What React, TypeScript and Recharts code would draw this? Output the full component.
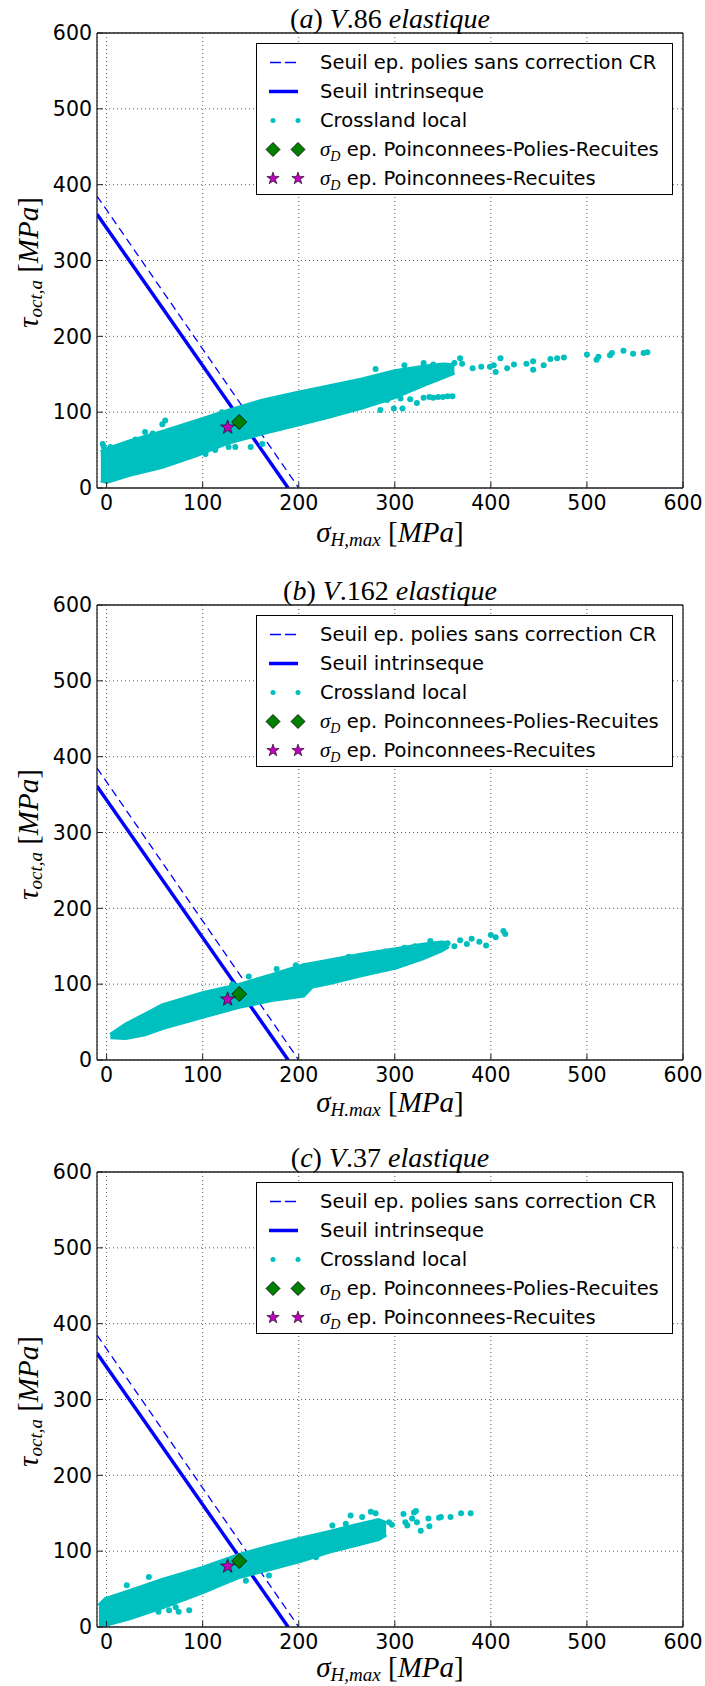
import React from 'react'
import { ComposedChart, Line, Area, Scatter, XAxis, YAxis, CartesianGrid, Legend, Label } from 'recharts'

const CYAN = '#00BFBF'
const BLUE = '#0000FF'
const GREEN = '#008000'
const MAGENTA = '#BF00BF'
const SANS = "'DejaVu Sans', sans-serif"
const SERIF = "'Liberation Serif', 'DejaVu Serif', serif"

const X_TICKS = [0, 100, 200, 300, 400, 500, 600]
const Y_TICKS = [0, 100, 200, 300, 400, 500, 600]

// threshold lines (same on the three panels)
const seuilSansCR = [{ x: -10, y: 385 }, { x: 200, y: 0 }]
const seuilIntrinseque = [{ x: -10, y: 361 }, { x: 189, y: 0 }]

// fatigue limits
const pointPPR = [{ x: 138, y: 87 }]
const pointPR = [{ x: 126, y: 80 }]

// dense part of the Crossland cloud: [sigma, low, high]
const bandA: [number, number, number][] = [
  [-6, 10, 47], [0, 8, 51], [23, 17, 61], [58, 28, 74], [93, 43, 88], [127, 60, 102],
  [162, 72, 115], [197, 83, 125], [231, 94, 134], [266, 106, 143], [300, 120, 154],
  [330, 136, 160], [350, 146, 163], [362, 152, 162],
]
const bandB: [number, number, number][] = [
  [4, 30, 33], [20, 29, 47], [40, 34, 60], [58, 42, 72], [100, 57, 88], [138, 70, 99],
  [172, 79, 112], [205, 85, 125], [214, 97, 127], [231, 101, 131], [266, 112, 139],
  [301, 122, 146], [329, 134, 152], [348, 144, 155], [356, 150, 154],
]
const bandC: [number, number, number][] = [
  [-8, 3, 28], [-1, 3, 37], [23, 11, 47], [58, 26, 62], [100, 46, 78], [138, 66, 95],
  [172, 77, 107], [204, 88, 117], [231, 99, 125], [259, 108, 134], [283, 116, 141],
  [291, 122, 137],
]

// scattered Crossland points outside the dense cloud: [sigma, tau]
const pointsA: [number, number][] = [
  [-4, 58], [-3, 54], [4, 54], [10, 52], [30, 64], [40, 74], [48, 72], [58, 84], [61, 89],
  [72, 50], [103, 45], [113, 50], [127, 54], [134, 54], [150, 54], [162, 58], [120, 100],
  [285, 103], [292, 116], [299, 105], [306, 118], [308, 105], [316, 117], [323, 112],
  [330, 119], [336, 120], [340, 119], [345, 120], [350, 120], [355, 121], [360, 121],
  [280, 157], [310, 162], [330, 165], [340, 163], [355, 160], [362, 165], [368, 171],
  [370, 164], [381, 158], [390, 160], [399, 160], [403, 162], [405, 153], [410, 171],
  [417, 158], [424, 163], [437, 164], [444, 167], [444, 156], [455, 162], [462, 170],
  [469, 171], [476, 172], [500, 176], [510, 169], [512, 173], [524, 175], [526, 178],
  [538, 181], [548, 177], [559, 178], [563, 179],
]
const pointsB: [number, number][] = [
  [131, 100], [148, 110], [177, 120], [197, 125], [252, 136], [290, 143], [310, 148],
  [321, 150], [337, 157], [346, 150], [355, 154], [362, 150], [368, 158], [375, 153],
  [380, 160], [388, 156], [395, 151], [400, 165], [405, 162], [413, 170], [415, 166],
]
const pointsC: [number, number][] = [
  [54, 20], [65, 22], [72, 26], [75, 20], [82, 39], [86, 22], [44, 66], [21, 55],
  [145, 61], [169, 68], [218, 92], [235, 134], [249, 136], [254, 147], [266, 145],
  [275, 152], [280, 150], [285, 137], [294, 138], [297, 135], [309, 149], [311, 138],
  [313, 134], [318, 143], [320, 151], [322, 153], [323, 138], [327, 127], [335, 143],
  [336, 133], [346, 144], [348, 145], [358, 145], [369, 150], [379, 150],
]

const toBand = (b: [number, number, number][]) => b.map(([x, lo, hi]) => ({ x, band: [lo, hi] }))
const toPts = (p: [number, number][]) => p.map(([x, y]) => ({ x, y }))

const PANELS = [
  { letter: 'a', name: 'V.86', sub: 'H,max', band: bandA, points: pointsA, top: 0, labelGap: 54 },
  { letter: 'b', name: 'V.162', sub: 'H.max', band: bandB, points: pointsB, top: 572, labelGap: 52 },
  { letter: 'c', name: 'V.37', sub: 'H,max', band: bandC, points: pointsC, top: 1139, labelGap: 50 },
]

const starPoints = (cx: number, cy: number, R: number) => {
  const pts: string[] = []
  for (let i = 0; i < 10; i++) {
    const r = i % 2 === 0 ? R : R * 0.4
    const a = -Math.PI / 2 + (i * Math.PI) / 5
    pts.push(`${cx + r * Math.cos(a)},${cy + r * Math.sin(a)}`)
  }
  return pts.join(' ')
}

const diamondPoints = (cx: number, cy: number, h: number) =>
  `${cx},${cy - h} ${cx + h},${cy} ${cx},${cy + h} ${cx - h},${cy}`

const Dot = (p: any) => <circle cx={p.cx} cy={p.cy} r={3} fill={CYAN} />
const Diamond = (p: any) => (
  <polygon points={diamondPoints(p.cx, p.cy, 7.5)} fill={GREEN} stroke="#000" strokeWidth={0.8} />
)
const Star = (p: any) => (
  <polygon points={starPoints(p.cx, p.cy, 7.5)} fill={MAGENTA} stroke="#000" strokeWidth={0.6} />
)

const SigmaD = () => (
  <span style={{ fontFamily: SERIF, fontStyle: 'italic', fontSize: 21 }}>
    σ<sub style={{ fontSize: 14 }}>D</sub>
  </span>
)

const LEGEND_ROWS = [
  { key: 'dash', label: 'Seuil ep. polies sans correction CR' },
  { key: 'solid', label: 'Seuil intrinseque' },
  { key: 'dot', label: 'Crossland local' },
  { key: 'diamond', label: 'ep. Poinconnees-Polies-Recuites' },
  { key: 'star', label: 'ep. Poinconnees-Recuites' },
]

function LegendSymbol({ kind }: { kind: string }) {
  return (
    <svg width={60} height={29} style={{ position: 'absolute', left: 0, top: 0 }}>
      {kind === 'dash' && <line x1={13} x2={40} y1={14.5} y2={14.5} stroke={BLUE} strokeWidth={1.3} strokeDasharray="11 4" />}
      {kind === 'solid' && <line x1={12} x2={41} y1={14.5} y2={14.5} stroke={BLUE} strokeWidth={3.5} />}
      {kind === 'dot' && (
        <>
          <circle cx={16} cy={14.5} r={2.5} fill={CYAN} />
          <circle cx={41} cy={14.5} r={2.5} fill={CYAN} />
        </>
      )}
      {kind === 'diamond' && (
        <>
          <polygon points={diamondPoints(16, 14.5, 7)} fill={GREEN} stroke="#000" strokeWidth={0.8} />
          <polygon points={diamondPoints(41, 14.5, 7)} fill={GREEN} stroke="#000" strokeWidth={0.8} />
        </>
      )}
      {kind === 'star' && (
        <>
          <polygon points={starPoints(16, 14.5, 6.5)} fill={MAGENTA} stroke="#000" strokeWidth={0.6} />
          <polygon points={starPoints(41, 14.5, 6.5)} fill={MAGENTA} stroke="#000" strokeWidth={0.6} />
        </>
      )}
    </svg>
  )
}

function LegendBox() {
  return (
    <div
      style={{
        boxSizing: 'border-box',
        width: 417,
        height: 152,
        border: '1px solid #000',
        background: '#fff',
        paddingTop: 4,
        fontFamily: SANS,
        fontSize: 19.5,
        color: '#000',
      }}
    >
      {LEGEND_ROWS.map((r) => (
        <div key={r.key} style={{ position: 'relative', height: 29, lineHeight: '29px', paddingLeft: 63, whiteSpace: 'nowrap' }}>
          <LegendSymbol kind={r.key} />
          {(r.key === 'diamond' || r.key === 'star') && <><SigmaD /> </>}
          {r.label}
        </div>
      ))}
    </div>
  )
}

function Panel({ letter, name, sub, band, points, top, labelGap }: any) {
  const title = (props: any) => {
    const { x, y, width } = props.viewBox
    return (
      <text x={x + width / 2} y={y - 4} textAnchor="middle" fontFamily={SERIF} fontSize={28} fill="#000">
        <tspan>(</tspan>
        <tspan fontStyle="italic">{letter}</tspan>
        <tspan>) </tspan>
        <tspan fontStyle="italic">{name.slice(0, 1)}</tspan>
        <tspan>{name.slice(1)} </tspan>
        <tspan fontStyle="italic">elastique</tspan>
      </text>
    )
  }
  const xTitle = (props: any) => {
    const { x, y, width } = props.viewBox
    return (
      <text x={x + width / 2} y={y + labelGap} textAnchor="middle" fontFamily={SERIF} fontSize={29} fill="#000">
        <tspan fontStyle="italic">σ</tspan>
        <tspan fontStyle="italic" fontSize={19} dy={4}>{sub}</tspan>
        <tspan dy={-4}> [</tspan>
        <tspan fontStyle="italic">MPa</tspan>
        <tspan>]</tspan>
      </text>
    )
  }
  const yTitle = (props: any) => {
    const { x, y, height } = props.viewBox
    const cx = x + 1
    const cy = y + height / 2 + 2
    return (
      <text x={cx} y={cy} transform={`rotate(-90 ${cx} ${cy})`} textAnchor="middle" fontFamily={SERIF} fontSize={29} fill="#000">
        <tspan fontStyle="italic">τ</tspan>
        <tspan fontStyle="italic" fontSize={19} dy={4}>oct,a</tspan>
        <tspan dy={-4}> [</tspan>
        <tspan fontStyle="italic">MPa</tspan>
        <tspan>]</tspan>
      </text>
    )
  }
  const tickFont = { fill: '#000', fontSize: 20.5, fontFamily: SANS }
  const frame = { stroke: '#222', strokeWidth: 1.3 }
  const tickLine = { stroke: '#222', strokeWidth: 1 }

  return (
    <div style={{ position: 'absolute', left: 0, top }}>
      <ComposedChart width={705} height={570} margin={{ top: 32, right: 21, bottom: 22, left: 37 }}>
        <CartesianGrid stroke="#333" strokeDasharray="1 3" strokeWidth={0.8} />
        <XAxis
          xAxisId="t"
          orientation="top"
          type="number"
          domain={[-10, 600]}
          ticks={X_TICKS}
          interval={0}
          height={1}
          tick={false}
          tickSize={-6}
          allowDataOverflow
          axisLine={frame}
          tickLine={tickLine}
        >
          <Label content={title} />
        </XAxis>
        <XAxis
          dataKey="x"
          type="number"
          domain={[-10, 600]}
          ticks={X_TICKS}
          interval={0}
          height={60}
          tickSize={-6}
          tickMargin={13}
          allowDataOverflow
          tick={tickFont}
          axisLine={frame}
          tickLine={tickLine}
        >
          <Label content={xTitle} />
        </XAxis>
        <YAxis
          dataKey="y"
          type="number"
          domain={[0, 600]}
          ticks={Y_TICKS}
          interval={0}
          width={60}
          tickSize={-6}
          tickMargin={11}
          allowDataOverflow
          tick={tickFont}
          axisLine={frame}
          tickLine={tickLine}
        >
          <Label content={yTitle} />
        </YAxis>
        <YAxis
          yAxisId="r"
          orientation="right"
          type="number"
          domain={[0, 600]}
          ticks={Y_TICKS}
          interval={0}
          width={1}
          tick={false}
          tickSize={-6}
          allowDataOverflow
          axisLine={frame}
          tickLine={tickLine}
        />
        {/* threshold lines sit under the cloud, as in the original */}
        <Line
          name="Seuil ep. polies sans correction CR"
          data={seuilSansCR}
          dataKey="y"
          type="linear"
          stroke={BLUE}
          strokeWidth={1.3}
          strokeDasharray="8 5"
          dot={false}
          activeDot={false}
          isAnimationActive={false}
          {...({ zIndex: 50 } as any)}
        />
        <Line
          name="Seuil intrinseque"
          data={seuilIntrinseque}
          dataKey="y"
          type="linear"
          stroke={BLUE}
          strokeWidth={3.5}
          dot={false}
          activeDot={false}
          isAnimationActive={false}
          {...({ zIndex: 50 } as any)}
        />
        <Area
          name="Crossland local"
          data={toBand(band)}
          dataKey="band"
          type="linear"
          stroke={CYAN}
          strokeWidth={4}
          fill={CYAN}
          fillOpacity={1}
          dot={false}
          activeDot={false}
          isAnimationActive={false}
          {...({ zIndex: 100 } as any)}
        />
        <Scatter name="Crossland local" data={toPts(points)} shape={Dot} isAnimationActive={false} />
        <Scatter name="PPR" data={pointPPR} shape={Diamond} isAnimationActive={false} />
        <Scatter name="PR" data={pointPR} shape={Star} isAnimationActive={false} />
        <Legend
          layout="vertical"
          align="center"
          verticalAlign="middle"
          wrapperStyle={{ left: 256, top: 42.5, width: 417, height: 152 }}
          content={() => <LegendBox />}
        />
      </ComposedChart>
    </div>
  )
}

export default function App() {
  return (
    <div style={{ position: 'absolute', left: 0, top: 0, width: 705, height: 1686, overflow: 'hidden', background: '#fff' }}>
      {PANELS.map((p) => (
        <Panel key={p.letter} {...p} />
      ))}
    </div>
  )
}
